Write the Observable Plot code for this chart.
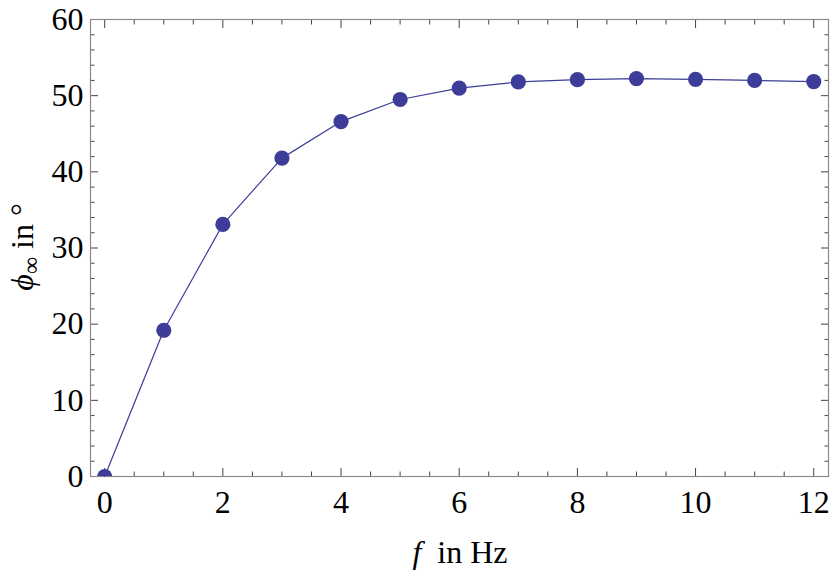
<!DOCTYPE html>
<html>
<head>
<meta charset="utf-8">
<script src="https://cdn.jsdelivr.net/npm/d3@7"></script>
<script src="https://cdn.jsdelivr.net/npm/@observablehq/plot@0.6"></script>
<style>
  html, body { margin: 0; padding: 0; background: white; }
</style>
</head>
<body>
<div id="chart"></div>
<script>
const freq = [0, 1, 2, 3, 4, 5, 6, 7, 8, 9, 10, 11, 12];
const phase = [0, 19.2, 33.1, 41.8, 46.6, 49.5, 51.0, 51.8, 52.1, 52.25, 52.15, 52.0, 51.85];
const xMajor = [0, 2, 4, 6, 8, 10, 12];
const xMinor = d3.range(0, 12.01, 0.5).filter(v => v % 2 !== 0);
const yMajor = [0, 10, 20, 30, 40, 50, 60];
const yMinor = d3.range(0, 60.01, 2).filter(v => v % 10 !== 0);

const data = freq.map((f, i) => ({f, p: phase[i]}));
const color = "#3d3d99";
const tickColor = "#444";
const serif = "Liberation Serif";

const plot = Plot.plot({
  width: 830,
  height: 570,
  marginLeft: 90,
  marginRight: 2,
  marginTop: 19,
  marginBottom: 94,
  x: {domain: [-0.24, 12.25]},
  y: {domain: [0, 60]},
  style: "font-family: 'Liberation Serif', serif; background: white; color: black;",
  marks: [
    // inward ticks, bottom
    Plot.axisX({anchor: "bottom", ticks: xMajor, tickSize: 8, dy: -8, text: null, label: null, stroke: tickColor}),
    Plot.axisX({anchor: "bottom", ticks: xMinor, tickSize: 4.5, dy: -4.5, text: null, label: null, stroke: tickColor}),
    // top
    Plot.axisX({anchor: "top", ticks: xMajor, tickSize: 8, dy: 8, text: null, label: null, stroke: tickColor}),
    Plot.axisX({anchor: "top", ticks: xMinor, tickSize: 4.5, dy: 4.5, text: null, label: null, stroke: tickColor}),
    // left
    Plot.axisY({anchor: "left", ticks: yMajor, tickSize: 8, dx: 8, text: null, label: null, stroke: tickColor}),
    Plot.axisY({anchor: "left", ticks: yMinor, tickSize: 4.5, dx: 4.5, text: null, label: null, stroke: tickColor}),
    // right
    Plot.axisY({anchor: "right", ticks: yMajor, tickSize: 8, dx: -8, text: null, label: null, stroke: tickColor}),
    Plot.axisY({anchor: "right", ticks: yMinor, tickSize: 4.5, dx: -4.5, text: null, label: null, stroke: tickColor}),
    // labels
    Plot.axisX({anchor: "bottom", ticks: xMajor, tickSize: 0, tickPadding: 14, fontSize: 32, fontFamily: serif, label: null, fill: "black"}),
    Plot.axisY({anchor: "left", ticks: yMajor, tickSize: 0, tickPadding: 7, fontSize: 32, fontFamily: serif, label: null, fill: "black"}),
    Plot.frame({stroke: "#8a8a8a", strokeWidth: 1.2}),
    Plot.line(data, {x: "f", y: "p", stroke: color, strokeWidth: 1.2}),
    Plot.dot(data, {x: "f", y: "p", r: 7.6, fill: color, stroke: "none", clip: true})
  ]
});

document.getElementById("chart").appendChild(plot);

const svg = d3.select(plot);
const xl = svg.append("text")
  .attr("x", 460).attr("y", 563)
  .attr("text-anchor", "middle")
  .attr("font-family", serif)
  .attr("font-size", 32)
  .attr("fill", "black");
xl.append("tspan").attr("font-style", "italic").text("f");
xl.append("tspan").attr("dx", 8).text(" in Hz");

const yl = svg.append("text")
  .attr("transform", "translate(33,247) rotate(-90)")
  .attr("text-anchor", "middle")
  .attr("font-family", serif)
  .attr("font-size", 32)
  .attr("fill", "black");
yl.append("tspan").attr("font-style", "italic").text("ϕ");
yl.append("tspan").attr("dy", 6).attr("font-size", 24).text("∞");
yl.append("tspan").attr("dy", -6).text(" in °");
</script>
</body>
</html>
